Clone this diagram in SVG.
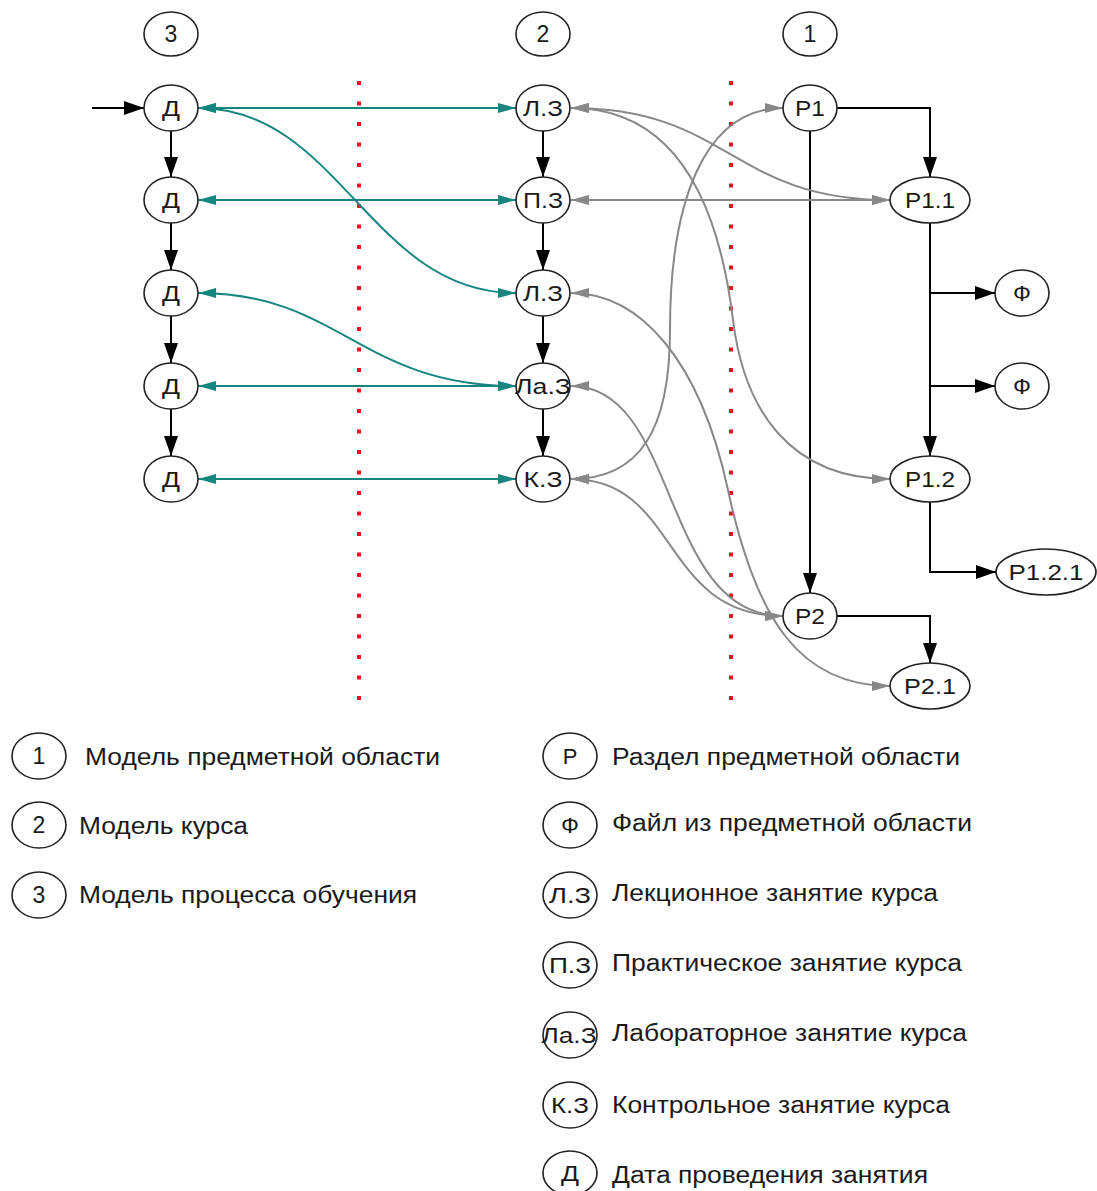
<svg xmlns="http://www.w3.org/2000/svg" width="1097" height="1191" viewBox="0 0 1097 1191">
<style>
.n{fill:#fff;stroke:#222;stroke-width:1.6}
.t{font-family:"Liberation Sans",Arial,sans-serif;font-size:22px;fill:#1a1a1a;text-anchor:middle}
.h{font-family:"Liberation Sans",Arial,sans-serif;font-size:23px;fill:#1a1a1a;text-anchor:middle}
.lg{font-family:"Liberation Sans",Arial,sans-serif;font-size:23px;fill:#1a1a1a}
.bk{fill:none;stroke:#000;stroke-width:2;marker-end:url(#ab)}
.tl{fill:none;stroke:#15857f;stroke-width:2;marker-start:url(#at);marker-end:url(#at)}
.gr{fill:none;stroke:#888;stroke-width:2;marker-start:url(#ag);marker-end:url(#ag)}
.rd{stroke:#e3141c;stroke-width:4;stroke-dasharray:4 16.5}
</style>
<defs>
<marker id="ab" markerUnits="userSpaceOnUse" markerWidth="20" markerHeight="14" refX="20" refY="7" orient="auto"><path d="M0,0 L20,7 L0,14 z" fill="#000"/></marker>
<marker id="at" markerUnits="userSpaceOnUse" markerWidth="18" markerHeight="10" refX="18" refY="5" orient="auto-start-reverse"><path d="M0,0 L18,5 L0,10 z" fill="#15857f"/></marker>
<marker id="ag" markerUnits="userSpaceOnUse" markerWidth="18" markerHeight="10" refX="18" refY="5" orient="auto-start-reverse"><path d="M0,0 L18,5 L0,10 z" fill="#888"/></marker>
</defs>
<rect width="1097" height="1191" fill="#fff"/>

<g id="separators">
<line class="rd" x1="359" y1="81" x2="359" y2="701"/>
<line class="rd" x1="731" y1="81" x2="731" y2="701"/>
</g>

<g id="connectors">
<path class="bk" d="M92,108 H144"/>
<path class="bk" d="M171,131 V177"/>
<path class="bk" d="M171,223 V270"/>
<path class="bk" d="M171,316 V363"/>
<path class="bk" d="M171,409 V456"/>
<path class="bk" d="M543,131 V177"/>
<path class="bk" d="M543,223 V270"/>
<path class="bk" d="M543,316 V363"/>
<path class="bk" d="M543,409 V456"/>
<path class="bk" d="M837,108 H930 V177"/>
<path class="bk" d="M810,131 V593"/>
<path class="bk" d="M930,223 V456"/>
<path class="bk" d="M930,293 H995"/>
<path class="bk" d="M930,386 H995"/>
<path class="bk" d="M930,502 V572 H996"/>
<path class="bk" d="M837,616 H930 V663"/>

<path class="tl" d="M198,108 H516"/>
<path class="tl" d="M198,200 H516"/>
<path class="tl" d="M198,108 C340,108 370,293 516,293"/>
<path class="tl" d="M198,293 C340,293 360,386 516,386"/>
<path class="tl" d="M198,386 H516"/>
<path class="tl" d="M198,479 H516"/>

<path class="gr" d="M571,108 C730,108 730,200 890,200"/>
<path class="gr" d="M571,200 H890"/>
<path class="gr" d="M571,108 C690,108 722,230 733,320 S790,479 890,479"/>
<path class="gr" d="M571,293 C640,293 700,360 728,490 S800,686 890,686"/>
<path class="gr" d="M571,479 C640,479 670,430 670,330 C670,200 705,108 783,108"/>
<path class="gr" d="M571,386 C680,386 660,616 783,616"/>
<path class="gr" d="M571,479 C680,479 660,616 783,616"/>
</g>

<g id="h3"><ellipse class="n" cx="171" cy="34" rx="27" ry="22"/><text class="h" x="171" y="42">3</text></g>
<g id="h2"><ellipse class="n" cx="543" cy="34" rx="27" ry="22"/><text class="h" x="543" y="42">2</text></g>
<g id="h1"><ellipse class="n" cx="810" cy="34" rx="27" ry="22"/><text class="h" x="810" y="42">1</text></g>

<g id="d1"><ellipse class="n" cx="171" cy="108" rx="27" ry="23"/><text class="t" x="171" y="116" textLength="18" lengthAdjust="spacingAndGlyphs">Д</text></g>
<g id="d2"><ellipse class="n" cx="171" cy="200" rx="27" ry="23"/><text class="t" x="171" y="208" textLength="18" lengthAdjust="spacingAndGlyphs">Д</text></g>
<g id="d3"><ellipse class="n" cx="171" cy="293" rx="27" ry="23"/><text class="t" x="171" y="301" textLength="18" lengthAdjust="spacingAndGlyphs">Д</text></g>
<g id="d4"><ellipse class="n" cx="171" cy="386" rx="27" ry="23"/><text class="t" x="171" y="394" textLength="18" lengthAdjust="spacingAndGlyphs">Д</text></g>
<g id="d5"><ellipse class="n" cx="171" cy="479" rx="27" ry="23"/><text class="t" x="171" y="487" textLength="18" lengthAdjust="spacingAndGlyphs">Д</text></g>

<g id="lz1"><ellipse class="n" cx="543" cy="108" rx="27" ry="23"/><text class="t" x="543" y="116" textLength="40" lengthAdjust="spacingAndGlyphs">Л.З</text></g>
<g id="pz"><ellipse class="n" cx="543" cy="200" rx="27" ry="23"/><text class="t" x="543" y="208" textLength="40" lengthAdjust="spacingAndGlyphs">П.З</text></g>
<g id="lz2"><ellipse class="n" cx="543" cy="293" rx="27" ry="23"/><text class="t" x="543" y="301" textLength="40" lengthAdjust="spacingAndGlyphs">Л.З</text></g>
<g id="laz"><ellipse class="n" cx="543" cy="386" rx="27" ry="23"/><text class="t" x="543" y="394" textLength="56" lengthAdjust="spacingAndGlyphs">Ла.З</text></g>
<g id="kz"><ellipse class="n" cx="543" cy="479" rx="27" ry="23"/><text class="t" x="543" y="487" textLength="39" lengthAdjust="spacingAndGlyphs">К.З</text></g>

<g id="p1"><ellipse class="n" cx="810" cy="108" rx="27" ry="23"/><text class="t" x="810" y="116" textLength="30" lengthAdjust="spacingAndGlyphs">Р1</text></g>
<g id="p11"><ellipse class="n" cx="930" cy="200" rx="40" ry="23"/><text class="t" x="930" y="208" textLength="50" lengthAdjust="spacingAndGlyphs">Р1.1</text></g>
<g id="f1"><ellipse class="n" cx="1022" cy="293" rx="27" ry="23"/><text class="t" x="1022" y="301" textLength="18" lengthAdjust="spacingAndGlyphs">Ф</text></g>
<g id="f2"><ellipse class="n" cx="1022" cy="386" rx="27" ry="23"/><text class="t" x="1022" y="394" textLength="18" lengthAdjust="spacingAndGlyphs">Ф</text></g>
<g id="p12"><ellipse class="n" cx="930" cy="479" rx="40" ry="23"/><text class="t" x="930" y="487" textLength="50" lengthAdjust="spacingAndGlyphs">Р1.2</text></g>
<g id="p121"><ellipse class="n" cx="1046" cy="572" rx="50" ry="23"/><text class="t" x="1046" y="580" textLength="75" lengthAdjust="spacingAndGlyphs">Р1.2.1</text></g>
<g id="p2"><ellipse class="n" cx="810" cy="616" rx="27" ry="23"/><text class="t" x="810" y="624" textLength="30" lengthAdjust="spacingAndGlyphs">Р2</text></g>
<g id="p21"><ellipse class="n" cx="930" cy="686" rx="40" ry="23"/><text class="t" x="930" y="694" textLength="52" lengthAdjust="spacingAndGlyphs">Р2.1</text></g>

<g id="legend-left">
<g id="lg1"><ellipse class="n" cx="39" cy="756" rx="27" ry="23"/><text class="h" x="39" y="764">1</text><text class="lg" x="85" y="765" textLength="355" lengthAdjust="spacingAndGlyphs">Модель предметной области</text></g>
<g id="lg2"><ellipse class="n" cx="39" cy="825" rx="27" ry="23"/><text class="h" x="39" y="833">2</text><text class="lg" x="79" y="834" textLength="169" lengthAdjust="spacingAndGlyphs">Модель курса</text></g>
<g id="lg3"><ellipse class="n" cx="39" cy="895" rx="27" ry="23"/><text class="h" x="39" y="903">3</text><text class="lg" x="79" y="903" textLength="338" lengthAdjust="spacingAndGlyphs">Модель процесса обучения</text></g>
</g>

<g id="legend-right">
<g id="lgP"><ellipse class="n" cx="570" cy="756" rx="27" ry="23"/><text class="t" x="570" y="764">Р</text><text class="lg" x="612" y="765" textLength="348" lengthAdjust="spacingAndGlyphs">Раздел предметной области</text></g>
<g id="lgF"><ellipse class="n" cx="570" cy="825" rx="27" ry="23"/><text class="t" x="570" y="833" textLength="18" lengthAdjust="spacingAndGlyphs">Ф</text><text class="lg" x="612" y="831" textLength="360" lengthAdjust="spacingAndGlyphs">Файл из предметной области</text></g>
<g id="lgLZ"><ellipse class="n" cx="570" cy="895" rx="27" ry="23"/><text class="t" x="570" y="903" textLength="42" lengthAdjust="spacingAndGlyphs">Л.З</text><text class="lg" x="612" y="901" textLength="326" lengthAdjust="spacingAndGlyphs">Лекционное занятие курса</text></g>
<g id="lgPZ"><ellipse class="n" cx="570" cy="965" rx="27" ry="23"/><text class="t" x="570" y="973" textLength="42" lengthAdjust="spacingAndGlyphs">П.З</text><text class="lg" x="612" y="971" textLength="350" lengthAdjust="spacingAndGlyphs">Практическое занятие курса</text></g>
<g id="lgLaZ"><ellipse class="n" cx="570" cy="1035" rx="27" ry="23"/><text class="t" x="569" y="1043" textLength="55" lengthAdjust="spacingAndGlyphs">Ла.З</text><text class="lg" x="612" y="1041" textLength="355" lengthAdjust="spacingAndGlyphs">Лабораторное занятие курса</text></g>
<g id="lgKZ"><ellipse class="n" cx="570" cy="1105" rx="27" ry="23"/><text class="t" x="570" y="1113" textLength="38" lengthAdjust="spacingAndGlyphs">К.З</text><text class="lg" x="612" y="1113" textLength="338" lengthAdjust="spacingAndGlyphs">Контрольное занятие курса</text></g>
<g id="lgD"><ellipse class="n" cx="570" cy="1173" rx="27" ry="22"/><text class="t" x="570" y="1181" textLength="18" lengthAdjust="spacingAndGlyphs">Д</text><text class="lg" x="612" y="1183" textLength="316" lengthAdjust="spacingAndGlyphs">Дата проведения занятия</text></g>
</g>
</svg>
